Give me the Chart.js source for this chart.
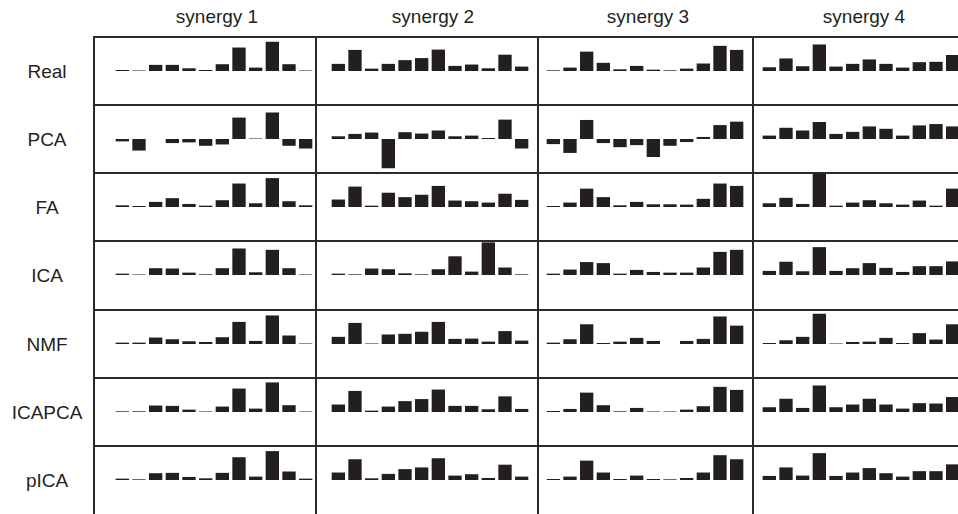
<!DOCTYPE html>
<html>
<head>
<meta charset="utf-8">
<script src="https://cdn.jsdelivr.net/npm/chart.js@4/dist/chart.umd.min.js"></script>
<style>
  html, body { margin:0; padding:0; background:#fff; }
  body { width:958px; height:514px; overflow:hidden; position:relative; font-family:"Liberation Sans", Arial, Helvetica, sans-serif; color:#231f20; }
  .hline { position:absolute; height:2px; background:#2b2b2b; }
  .vline { position:absolute; width:2px; background:#2b2b2b; }
  .head { position:absolute; top:6px; width:200px; text-align:center; font-size:19px; }
  .lab { position:absolute; left:0; width:94px; text-align:center; font-size:19px; line-height:22px; }
  canvas { position:absolute; }
</style>
</head>
<body>
<script>
// 12 muscles per synergy, 4 synergies, 7 methods
const muscles = ['1','2','3','4','5','6','7','8','9','10','11','12'];
const synergies = ['synergy 1','synergy 2','synergy 3','synergy 4'];
const methods = ['Real','PCA','FA','ICA','NMF','ICAPCA','pICA'];

const real = [
  [0.03,0.015,0.18,0.18,0.08,0.03,0.2,0.69,0.1,0.86,0.2,0.015],
  [0.21,0.62,0.07,0.21,0.32,0.38,0.63,0.15,0.19,0.08,0.48,0.13],
  [0.02,0.1,0.57,0.24,0.05,0.15,0.04,0.02,0.07,0.22,0.74,0.62],
  [0.11,0.37,0.14,0.78,0.13,0.21,0.34,0.21,0.1,0.26,0.27,0.47]
];
const pca = [
  [-0.07,-0.34,0,-0.12,-0.1,-0.2,-0.16,0.63,0.015,0.78,-0.2,-0.28],
  [0.08,0.15,0.19,-0.86,0.2,0.16,0.25,0.08,0.1,0.03,0.57,-0.28],
  [-0.15,-0.41,0.56,-0.12,-0.24,-0.18,-0.53,-0.2,-0.09,0.06,0.41,0.51],
  [0.1,0.33,0.25,0.5,0.15,0.21,0.37,0.3,0.1,0.4,0.44,0.37]
];
const fa = [
  [0.05,0.03,0.15,0.26,0.09,0.04,0.2,0.69,0.11,0.85,0.17,0.05],
  [0.22,0.6,0.04,0.42,0.29,0.36,0.62,0.19,0.17,0.13,0.39,0.21],
  [0.03,0.13,0.54,0.29,0.05,0.15,0.08,0.08,0.07,0.24,0.69,0.62],
  [0.11,0.27,0.09,0.99,0.04,0.13,0.2,0.11,0.07,0.19,0.04,0.54]
];
const ica = [
  [0.04,0.015,0.2,0.19,0.07,0.02,0.2,0.78,0.08,0.74,0.2,0.015],
  [0.04,0.02,0.19,0.17,0.05,0.02,0.17,0.55,0.1,0.96,0.22,0.02],
  [0.04,0.16,0.38,0.35,0.04,0.15,0.09,0.07,0.07,0.22,0.68,0.74],
  [0.12,0.39,0.11,0.82,0.12,0.2,0.35,0.21,0.09,0.26,0.26,0.4]
];
const nmf = [
  [0.04,0.04,0.19,0.14,0.08,0.06,0.2,0.65,0.09,0.84,0.25,0.015],
  [0.21,0.62,0.015,0.28,0.3,0.36,0.65,0.15,0.16,0.07,0.38,0.1],
  [0.04,0.14,0.58,0.03,0.07,0.18,0.09,0,0.09,0.15,0.81,0.54],
  [0.03,0.11,0.21,0.89,0.015,0.06,0.07,0.18,0.03,0.32,0.13,0.58]
];
const icapca = [
  [0.02,0.02,0.19,0.18,0.07,0.015,0.16,0.69,0.1,0.87,0.2,0.015],
  [0.22,0.62,0.04,0.16,0.32,0.38,0.66,0.18,0.18,0.08,0.46,0.09],
  [0.03,0.09,0.57,0.2,0.02,0.12,0.015,0.015,0.07,0.17,0.74,0.65],
  [0.14,0.39,0.12,0.78,0.14,0.22,0.39,0.22,0.1,0.26,0.25,0.44]
];
const pica = [
  [0.04,0.02,0.2,0.21,0.09,0.05,0.21,0.67,0.1,0.85,0.25,0.04],
  [0.22,0.61,0.05,0.18,0.32,0.37,0.64,0.13,0.17,0.06,0.45,0.1],
  [0.03,0.1,0.57,0.22,0.03,0.13,0.03,0.02,0.06,0.22,0.73,0.61],
  [0.12,0.37,0.13,0.79,0.12,0.22,0.35,0.2,0.1,0.26,0.26,0.46]
];
const weights = [real, pca, fa, ica, nmf, icapca, pica];

// layout of the grid (pixels)
const rowTop = [37,105,173,241,310,378,446];
const rowH = 68;
const colLine = [94,316,538,753];
const barLeft = [114,330,545,761];

function addDiv(cls, css, text){
  const d = document.createElement('div');
  d.className = cls;
  Object.assign(d.style, css);
  if (text) d.textContent = text;
  document.body.appendChild(d);
  return d;
}

function makeChart(left, top, data){
  const c = document.createElement('canvas');
  c.width = 200; c.height = rowH;
  c.style.left = left + 'px'; c.style.top = top + 'px';
  c.style.width = '200px'; c.style.height = rowH + 'px';
  document.body.appendChild(c);
  return new Chart(c.getContext('2d'), {
    type: 'bar',
    data: { labels: muscles, datasets: [{ data, backgroundColor:'#231f20', borderWidth:0,
      categoryPercentage:1, barPercentage:0.8 }] },
    options: {
      responsive:false, animation:false, events:[],
      layout:{ padding:0 },
      plugins:{ legend:{ display:false }, tooltip:{ enabled:false } },
      scales:{ x:{ display:false }, y:{ display:false, min:-1, max:1 } }
    }
  });
}

// grid lines
addDiv('hline', { left:'94px', top:(rowTop[0]-1)+'px', width:'864px' });
for (let i = 1; i < rowTop.length; i++)
  addDiv('hline', { left:'94px', top:(rowTop[i]-1)+'px', width:'864px' });
colLine.forEach(x => addDiv('vline', { left:(x-1)+'px', top:(rowTop[0]-1)+'px', height:(514-rowTop[0]+1)+'px' }));

synergies.forEach((s, j) => addDiv('head', { left:(barLeft[j]+3)+'px' }, s));
methods.forEach((m, i) => addDiv('lab', { top:(rowTop[i]+rowH/2-10)+'px' }, m));

methods.forEach((m, i) => {
  synergies.forEach((s, j) => makeChart(barLeft[j], rowTop[i], weights[i][j]));
});
</script>
</body>
</html>
